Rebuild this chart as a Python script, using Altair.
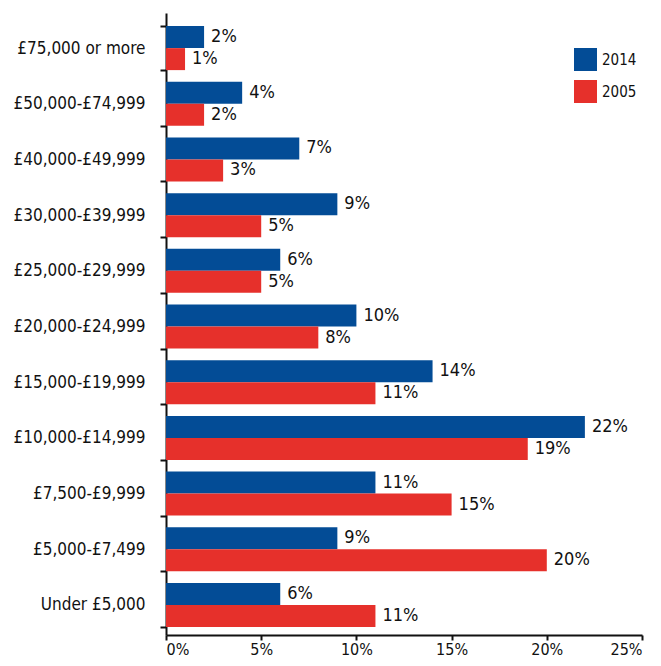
import altair as alt
import pandas as pd

categories = ["£75,000 or more", "£50,000-£74,999", "£40,000-£49,999", "£30,000-£39,999",
              "£25,000-£29,999", "£20,000-£24,999", "£15,000-£19,999", "£10,000-£14,999",
              "£7,500-£9,999", "£5,000-£7,499", "Under £5,000"]
values_2014 = [2, 4, 7, 9, 6, 10, 14, 22, 11, 9, 6]
values_2005 = [1, 2, 3, 5, 5, 8, 11, 19, 15, 20, 11]
years = ["2014", "2005"]
colors = ["#034c96", "#e6302b"]
x_ticks = [0, 5, 10, 15, 20, 25]

rows = []
for c, a, b in zip(categories, values_2014, values_2005):
    rows.append({"category": c, "year": "2014", "value": a, "label": f"{a}%"})
    rows.append({"category": c, "year": "2005", "value": b, "label": f"{b}%"})
df = pd.DataFrame(rows)

FONT = "DejaVu Sans Condensed"

y_enc = alt.Y("category:N", sort=categories, title=None,
              scale=alt.Scale(paddingInner=0.21, paddingOuter=0.19, align=0.62),
              axis=alt.Axis(tickBand="extent", domainColor="#111", domainWidth=2,
                            tickColor="#111", tickWidth=2, tickSize=6,
                            labelFontSize=17, labelFont=FONT, labelColor="#111",
                            labelPadding=15))
x_enc = alt.X("value:Q", title=None,
              scale=alt.Scale(domain=[0, 25], nice=False),
              axis=alt.Axis(values=x_ticks, grid=False, labelExpr="datum.value + '%'",
                            domainColor="#111", domainWidth=2, tickColor="#111",
                            tickWidth=2, tickSize=5, labelFontSize=16, labelFont=FONT,
                            labelColor="#111", labelPadding=1))
yoff = alt.YOffset("year:N", sort=years)

bars = alt.Chart(df).mark_bar().encode(
    x=x_enc, y=y_enc, yOffset=yoff,
    color=alt.Color("year:N", sort=years, title=None,
                    scale=alt.Scale(domain=years, range=colors),
                    legend=alt.Legend(orient="none", legendX=408, legendY=35,
                                      symbolType="square", symbolSize=529,
                                      symbolStrokeWidth=0, symbolOpacity=1,
                                      labelFontSize=15, labelFont=FONT, labelColor="#111",
                                      rowPadding=9, labelOffset=5, padding=0)),
)
text = alt.Chart(df).mark_text(align="left", baseline="middle", dx=7, fontSize=18,
                               font=FONT, color="#111").encode(
    x="value:Q", y=alt.Y("category:N", sort=categories), yOffset=yoff, text="label:N")

chart = alt.layer(bars, text).properties(
    width=476, height=622,
    autosize=alt.AutoSizeParams(type="none"),
    padding={"left": 158, "top": 5, "right": 11, "bottom": 23},
).configure_view(stroke=None)

chart.save("out.html", embed_options={"renderer": "svg", "actions": False})
